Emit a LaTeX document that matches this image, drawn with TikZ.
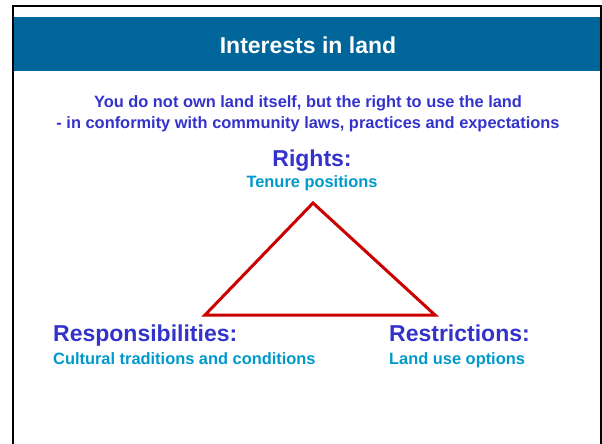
\documentclass[tikz,border=0pt]{standalone}
\usepackage{fontspec}
\setmainfont{Liberation Sans}
\definecolor{barblue}{RGB}{0,102,153}
\definecolor{headblue}{RGB}{51,51,204}
\definecolor{subblue}{RGB}{0,153,204}
\definecolor{trired}{RGB}{204,0,0}
\begin{document}
\begin{tikzpicture}[x=1pt,y=-1pt]
    \tikzstyle{head}=[inner sep=0pt,text=headblue,font=\fontsize{23}{27}\selectfont\bfseries]
    \tikzstyle{sub}=[inner sep=0pt,text=subblue,font=\fontsize{16.4}{21}\selectfont\bfseries]
    \tikzstyle{intro}=[inner sep=0pt,text=headblue,font=\fontsize{16.4}{21}\selectfont\bfseries]
    \useasboundingbox (0,0) rectangle (602,444);
      % frame and title bar
      \fill[barblue] (14,17) rectangle (600,71);
      \draw[line width=2pt] (13,444) -- (13,6) -- (600.5,6) -- (600.5,444);
      \node (title) at (308,54) [anchor=base,inner sep=0pt,text=white,font=\fontsize{23}{27}\selectfont\bfseries] {Interests in land};

      \node (introA) at (308,107) [intro,anchor=base] {You do not own land itself, but the right to use the land};
      \node (introB) at (308,128) [intro,anchor=base] {- in conformity with community laws, practices and expectations};

      % corners of the triangle
      \coordinate (apex) at (313,203);
      \coordinate (left) at (205,315);
      \coordinate (right) at (435,315);
      \draw[trired,line width=3pt,line join=miter] (apex) -- (right) -- (left) -- cycle;

      \node (rights) at (312,166.7) [head,anchor=base] {Rights:};
      \node (tenure) at (312,187.3) [sub,anchor=base] {Tenure positions};
      \node (resp) at (53,341) [head,anchor=base west] {Responsibilities:};
      \node (cult) at (53,364) [sub,anchor=base west] {Cultural traditions and conditions};
      \node (restr) at (389,341) [head,anchor=base west] {Restrictions:};
      \node (landuse) at (389,364) [sub,anchor=base west] {Land use options};
  \end{tikzpicture}
\end{document}
